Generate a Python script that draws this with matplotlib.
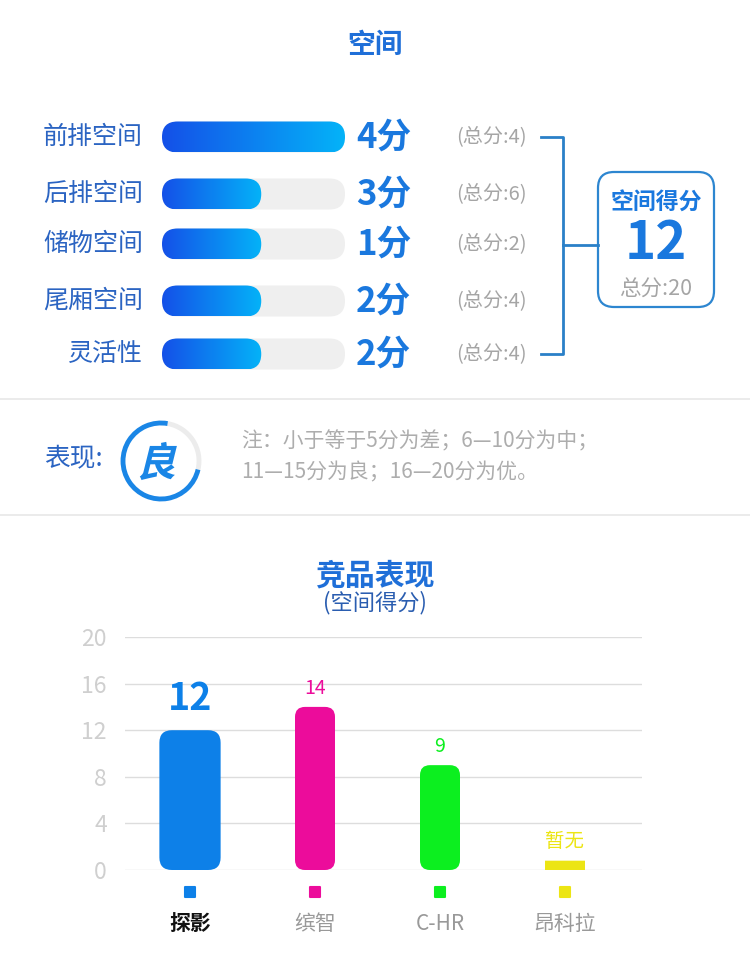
import numpy as np
import matplotlib; matplotlib.use("Agg")
import matplotlib.pyplot as plt
from matplotlib.patches import FancyBboxPatch, Arc, PathPatch
from matplotlib.textpath import TextPath
from matplotlib.font_manager import FontProperties
from matplotlib.transforms import Affine2D
from matplotlib.colors import LinearSegmentedColormap

plt.rcParams["font.family"] = ["Noto Sans CJK SC", "DejaVu Sans"]

# ---- data ----
items = ["前排空间", "后排空间", "储物空间", "尾厢空间", "灵活性"]
scores = [4, 3, 1, 2, 2]
totals = [4, 6, 2, 4, 4]
space_score = 12
space_total = 20
rating = "良"
note_lines = ["注：小于等于5分为差；6—10分为中；", "11—15分为良；16—20分为优。"]

competitors = ["探影", "缤智", "C-HR", "昂科拉"]
comp_scores = [12, 14, 9, None]          # None = no data (暂无)
comp_colors = ["#0d80e8", "#ec0c9b", "#0cef1f", "#ece514"]
placeholder = 0.8                         # stub bar height for missing value

# ---- layout (pixel coords, y measured from top) ----
W, H = 750, 963
row_y = [137, 194, 244, 301, 354]
BLUE = "#1a78de"
LABEL_BLUE = "#2b64c2"
GRAY = "#a5a5a5"

def Y(y):
    return H - y

fig = plt.figure(figsize=(7.5, 9.63), dpi=100)
ax = fig.add_axes([0, 0, 1, 1])
ax.set_xlim(0, W); ax.set_ylim(0, H); ax.axis("off")

ax.text(375, Y(45), "空间", ha="center", va="center", fontsize=20, fontweight="bold", color="#1f6fd8")

grad = LinearSegmentedColormap.from_list("g", ["#1450e8", "#04b3f8"])
bx, bw, bh = 162, 183, 31
for lab, s, t, yc in zip(items, scores, totals, row_y):
    ax.text(143, Y(yc), lab, ha="right", va="center", fontsize=18, color=LABEL_BLUE)
    track = FancyBboxPatch((bx, Y(yc) - bh / 2), bw, bh, boxstyle=f"round,pad=0,rounding_size={bh/2}",
                           fc="#efefef", ec="none")
    ax.add_patch(track)
    fw = bh / 2 + s / t * (bw - bh / 2)
    clip = FancyBboxPatch((bx, Y(yc) - bh / 2), fw, bh, boxstyle=f"round,pad=0,rounding_size={bh/2}",
                          fc="none", ec="none")
    ax.add_patch(clip)
    im = ax.imshow(np.linspace(0, 1, 256)[None, :], cmap=grad, aspect="auto",
                   extent=[bx, bx + fw, Y(yc) - bh / 2, Y(yc) + bh / 2], zorder=2)
    im.set_clip_path(clip)
    ax.text(356, Y(yc), f"{s}分", ha="left", va="center", fontsize=25, fontweight="bold", color=BLUE)
    ax.text(456, Y(yc), f"(总分:{t})", ha="left", va="center", fontsize=14.5, color=GRAY)
ax.set_xlim(0, W); ax.set_ylim(0, H)

# bracket
lc = "#2a80c8"
ax.plot([541, 563, 563, 541], [Y(row_y[0]), Y(row_y[0]), Y(row_y[-1]), Y(row_y[-1])], color=lc, lw=2)
ax.plot([563, 598], [Y(245), Y(245)], color=lc, lw=2)
box = FancyBboxPatch((598, Y(307)), 116, 135, boxstyle="round,pad=0,rounding_size=16",
                     fc="white", ec="#2d86d0", lw=1.6)
ax.add_patch(box)
ax.text(656, Y(203), "空间得分", ha="center", va="center", fontsize=16.5, fontweight="bold", color=BLUE)
ax.text(656, Y(243), str(space_score), ha="center", va="center", fontsize=38, fontweight="bold", color=BLUE)
ax.text(656, Y(290), f"总分:{space_total}", ha="center", va="center", fontsize=15.5, color=GRAY)

# separators
ax.plot([0, W], [Y(399), Y(399)], color="#e8e8e8", lw=1.2)
ax.plot([0, W], [Y(515), Y(515)], color="#e8e8e8", lw=1.2)

# rating
ax.text(44, Y(459), "表现:", ha="left", va="center", fontsize=18.5, color=LABEL_BLUE)
cx, cy, r = 161, Y(461), 38
ax.add_patch(Arc((cx, cy), 2 * r, 2 * r, theta1=-13, theta2=80, color="#ececec", lw=3.5))
ax.add_patch(Arc((cx, cy), 2 * r, 2 * r, theta1=80, theta2=347, color="#1a86e6", lw=3.5))
tp = TextPath((0, 0), rating, size=40, prop=FontProperties(family="Noto Sans CJK SC", weight="bold"))
bb = tp.get_extents()
tr = Affine2D().translate(-(bb.x0 + bb.width / 2), -(bb.y0 + bb.height / 2)).skew_deg(14, 0).translate(cx, cy)
ax.add_patch(PathPatch(tr.transform_path(tp), fc="#1a86e6", ec="none"))
for i, line in enumerate(note_lines):
    ax.text(241, Y(441 + 31 * i), line, ha="left", va="center", fontsize=15, color="#adadad")

# competitor chart titles
ax.text(375, Y(575), "竞品表现", ha="center", va="center", fontsize=21.5, fontweight="bold", color="#1f6fd8")
ax.text(375, Y(603), "(空间得分)", ha="center", va="center", fontsize=16, color="#2a5db0")

# ---- bar chart ----
x0p, x1p, ytop, ybot = 125, 642, 637, 870
bax = fig.add_axes([x0p / W, (H - ybot) / H, (x1p - x0p) / W, (ybot - ytop) / H])
centers_px = [190, 315, 440, 565]
xs = np.arange(len(competitors))
bax.set_xlim((x0p - centers_px[0]) / 125, (x1p - centers_px[0]) / 125)
bax.set_ylim(0, 20)
heights = [v if v is not None else placeholder for v in comp_scores]
widths = [0.49, 0.32, 0.32, 0.32]
bars = bax.bar(xs, heights, width=widths, color=comp_colors)
px_x = 125.0
px_y = (ybot - ytop) / 20.0
for b, v in zip(bars, comp_scores):
    rs = (0.1 if b.get_width() > 0.4 else 0.08) if v is not None else 0.0001
    p = FancyBboxPatch((b.get_x(), 0), b.get_width(), b.get_height(),
                       boxstyle=f"round,pad=0,rounding_size={rs}", mutation_aspect=px_x / px_y,
                       fc=b.get_facecolor(), ec="none", zorder=3)
    bax.add_patch(p)
    b.remove()

for i, (v, c) in enumerate(zip(comp_scores, comp_colors)):
    h = heights[i]
    if i == 0:
        bax.annotate(str(v), (xs[i], h), xytext=(0, 9), textcoords="offset points", ha="center",
                     va="bottom", fontsize=27, fontweight="bold", color=c)
    else:
        bax.annotate(str(v) if v is not None else "暂无", (xs[i], h), xytext=(0, 6),
                     textcoords="offset points", ha="center", va="bottom", fontsize=14, color=c)

bax.scatter(xs, [-22 / px_y] * len(xs), marker="s", s=60, c=comp_colors, clip_on=False, zorder=4,
            edgecolors=comp_colors, linewidths=1.5)

bax.set_yticks([0, 4, 8, 12, 16, 20])
bax.tick_params(axis="y", length=0, pad=13, labelcolor="#cfcfcf", labelsize=16.5)
bax.set_xticks(xs, competitors)
bax.tick_params(axis="x", length=0, pad=31, labelsize=15, labelcolor="#999999")
tl = bax.get_xticklabels()
tl[0].set_color("#111111"); tl[0].set_fontweight("bold")
bax.yaxis.grid(True, color="#dddddd", lw=1)
bax.set_axisbelow(True)
for s in bax.spines.values():
    s.set_visible(False)
bax.patch.set_alpha(0)

fig.savefig("out.png", dpi=100)
